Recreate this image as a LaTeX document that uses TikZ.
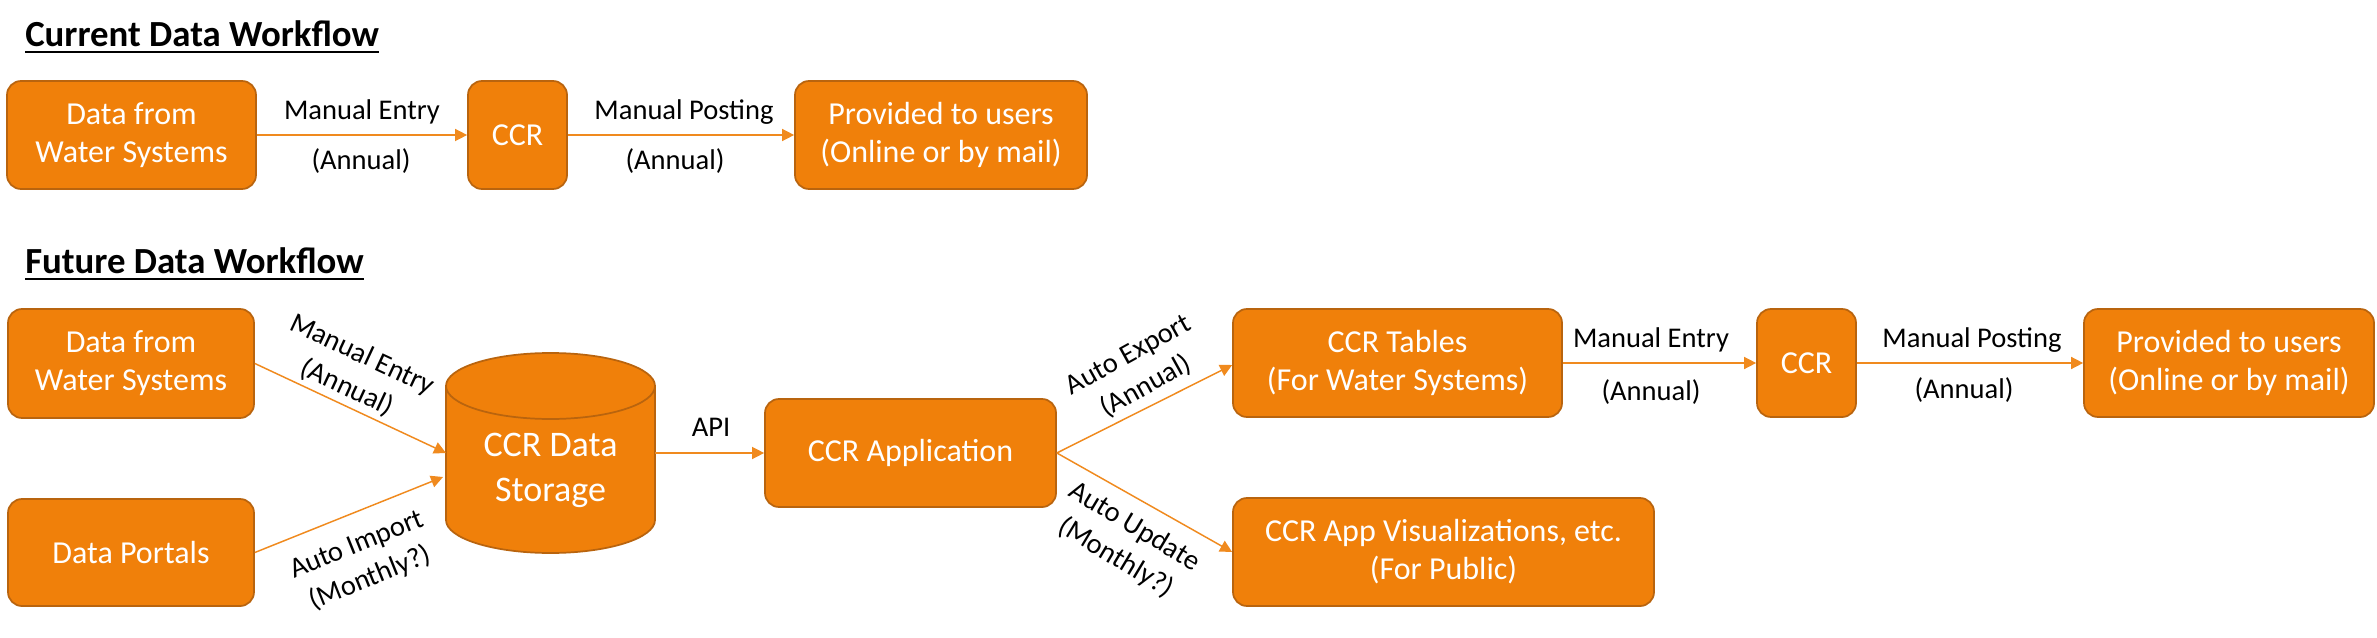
\documentclass[tikz,border=0pt]{standalone}
\usepackage{fontspec}
\setmainfont{Carlito}
\usetikzlibrary{arrows.meta,calc}
\definecolor{boxfill}{HTML}{F0800A}
\definecolor{boxline}{HTML}{B9640E}
\definecolor{arrowc}{HTML}{F08A1E}
\begin{document}
\begin{tikzpicture}[x=0.75pt,y=-0.75pt,
  box/.style={draw=boxline, line width=1.3pt, fill=boxfill, rounded corners=10.5pt,
    text=white, font=\fontsize{24}{28.5}\selectfont, align=center, inner sep=0pt},
  lbl/.style={font=\fontsize{21.4}{27}\selectfont, align=center, inner sep=0pt},
  conn/.style={draw=arrowc, line width=1.1pt, -{Triangle[length=9pt,width=9pt]}},
  ttl/.style={font=\bfseries\fontsize{27.6}{33}\selectfont, inner sep=0pt, anchor=base west},
  uline/.style={line width=1.9pt}]
\useasboundingbox[fill=white] (0,0) rectangle (2377,638);

% titles
\node[ttl] (t1) at (25,47) {Current Data Workflow};
\draw[uline] ($(t1.base west)+(0,5)$) -- ($(t1.base east)+(0,5)$);
\node[ttl] (t2) at (25,273) {Future Data Workflow};
\draw[uline] ($(t2.base west)+(0,6)$) -- ($(t2.base east)+(0,6)$);

% current workflow
\node[box, minimum width=186.75pt, minimum height=81pt] (a1) at (131.5,135) {Data from\\Water Systems};
\node[box, minimum width=74.25pt, minimum height=81pt] (a2) at (517.5,135) {CCR};
\node[box, minimum width=219pt, minimum height=81pt] (a3) at (941,135) {Provided to users\\(Online or by mail)};
\draw[conn] (a1) -- (a2);
\draw[conn] (a2) -- (a3);
\node[lbl] (la1) at (362,112) {Manual Entry};
\node[lbl] (la2) at (361,161) {(Annual)};
\node[lbl] (la3) at (684,112) {Manual Posting};
\node[lbl] (la4) at (675,161) {(Annual)};

% future workflow
\node[box, minimum width=184.5pt, minimum height=81.75pt] (b1) at (131,363.5) {Data from\\Water Systems};
\node[box, minimum width=184.5pt, minimum height=80.25pt] (b2) at (131,552.5) {Data Portals};

% cylinder
\path[fill=boxfill, draw=boxline, line width=1.3pt]
  (446,386) -- (446,520) arc[start angle=180, end angle=0, x radius=104.5, y radius=33]
  -- (655,386) arc[start angle=0, end angle=-180, x radius=104.5, y radius=33] -- cycle;
\draw[draw=boxline, line width=1.3pt] (446,386) arc[start angle=180, end angle=0, x radius=104.5, y radius=33];
\node[font=\fontsize{27}{33.75}\selectfont, text=white, align=center, inner sep=0pt] (cyl) at (550.5,470) {CCR Data\\Storage};
\coordinate (cylW) at (446,453);
\coordinate (cylW2) at (443,477);
\coordinate (cylE) at (655,453);

\node[box, minimum width=218.25pt, minimum height=81pt] (b3) at (910.5,453) {CCR Application};
\node[box, minimum width=246.75pt, minimum height=81pt] (b4) at (1397.5,363) {CCR Tables\\(For Water Systems)};
\node[box, minimum width=315.75pt, minimum height=81pt] (b5) at (1443.5,552) {CCR App Visualizations, etc.\\(For Public)};
\node[box, minimum width=74.25pt, minimum height=81pt] (b6) at (1806.5,363) {CCR};
\node[box, minimum width=217.5pt, minimum height=81pt] (b7) at (2229,363) {Provided to users\\(Online or by mail)};

\draw[conn] (b1.east) -- (cylW);
\draw[conn] (b2.east) -- (cylW2);
\draw[conn] (cylE) -- (b3.west);
\draw[conn] (b3.east) -- ($(b4.west)+(0,2)$);
\draw[conn] (b3.east) -- (b5.west);
\draw[conn] (b4) -- (b6);
\draw[conn] (b6) -- (b7);

\node[lbl, rotate=-25] (lb1) at (354.5,371.5) {Manual Entry\\(Annual)};
\node[lbl, rotate=22] (lb2) at (364,562.5) {Auto Import\\(Monthly?)};
\node[lbl] (lb3) at (711,427) {API};
\node[lbl, rotate=29] (lb4) at (1137.5,371.5) {Auto Export\\(Annual)};
\node[lbl, rotate=-31] (lb5) at (1125,542.5) {Auto Update\\(Monthly?)};
\node[lbl] (lb6) at (1651,340) {Manual Entry};
\node[lbl] (lb7) at (1651,392) {(Annual)};
\node[lbl] (lb8) at (1972,340) {Manual Posting};
\node[lbl] (lb9) at (1964,390) {(Annual)};
\end{tikzpicture}
\end{document}
